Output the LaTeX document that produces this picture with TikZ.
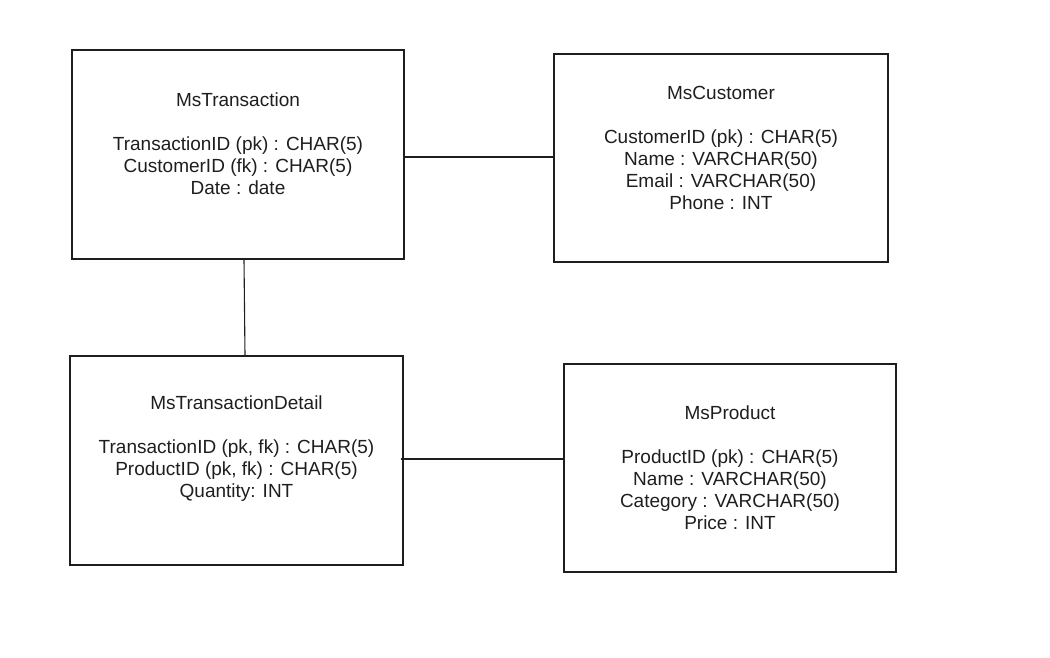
\documentclass[tikz,border=0pt]{standalone}
\usepackage{fontspec}
\setmainfont{Liberation Sans}
\definecolor{ink}{RGB}{30,30,30}
\begin{document}
\begin{tikzpicture}[x=1pt,y=1pt,
  entity/.style={draw=ink,line width=1.1pt,minimum width=#1,inner sep=0pt},
  etext/.style={align=center,text=ink,font=\fontsize{19}{22}\selectfont,inner sep=0pt},
  link/.style={draw=ink,line width=1.1pt}]
\useasboundingbox (0,0) rectangle (1050,658);
% boxes
\node[entity=332pt,minimum height=209pt] (mst) at (238,503.5) {};
\node[entity=334pt,minimum height=208pt] (msc) at (721,500) {};
\node[entity=333pt,minimum height=209pt] (mstd) at (236.5,197.5) {};
\node[entity=332pt,minimum height=208pt] (msp) at (730,190) {};
% texts
\node[etext] (mstt) at (238,514.5) {MsTransaction\\[22pt]TransactionID (pk) : CHAR(5)\\CustomerID (fk) : CHAR(5)\\Date : date};
\node[etext] (msct) at (721,510.5) {MsCustomer\\[22pt]CustomerID (pk) : CHAR(5)\\Name : VARCHAR(50)\\Email : VARCHAR(50)\\Phone : INT};
\node[etext] (mstdt) at (236.5,209) {MsTransactionDetail\\[22pt]TransactionID (pk, fk) : CHAR(5)\\ProductID (pk, fk) : CHAR(5)\\Quantity: INT};
\node[etext] (mspt) at (730,190) {MsProduct\\[22pt]ProductID (pk) : CHAR(5)\\Name : VARCHAR(50)\\Category : VARCHAR(50)\\Price : INT};
% connectors
\draw[link] (mst.east |- 0,501) -- (msc.west |- 0,501);
\draw[link] (mst.south -| 244,0) -- (mstd.north -| 245,0);
\draw[link] ([xshift=-3pt]mstd.east |- 0,199) -- (msp.west |- 0,199);
\end{tikzpicture}
\end{document}
